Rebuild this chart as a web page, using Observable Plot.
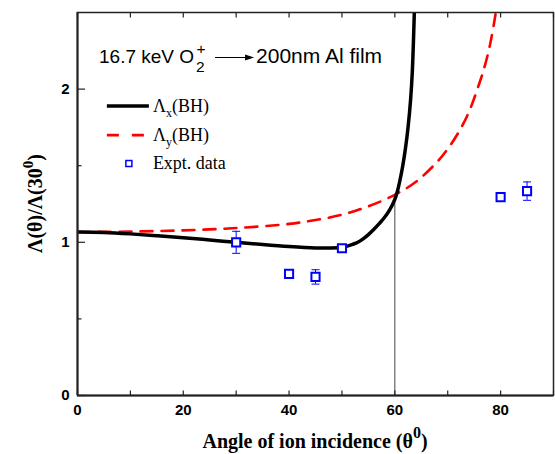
<!DOCTYPE html>
<html><head><meta charset="utf-8">
<script src="https://cdn.jsdelivr.net/npm/d3@7"></script>
<script src="https://cdn.jsdelivr.net/npm/@observablehq/plot@0.6"></script>
<style>body{margin:0;background:#fff} svg{display:block}</style>
</head><body><div id="chart"></div>
<script>
// Λx(BH) curve (black solid)
const thetaX = [0,5,10,15,20,25,30,35,40,45,48,50,51,52,53,54,55,56,57,58,59,60,60.5,61,61.5,62,62.5,63,63.3,63.6,63.8];
const lambdaX = [1.067,1.064,1.055,1.043,1.03,1.015,1.0,0.985,0.972,0.963,0.963,0.968,0.975,0.986,1.0,1.022,1.05,1.083,1.12,1.16,1.21,1.28,1.335,1.41,1.50,1.61,1.75,1.94,2.11,2.4,2.65];
// Λy(BH) curve (red dashed)
const thetaY = [0,10,20,30,40,45,50,55,60,64,68,70,72,74,76,77,78,79,79.5];
const lambdaY = [1.067,1.07,1.078,1.093,1.12,1.145,1.18,1.235,1.31,1.395,1.525,1.61,1.715,1.85,2.04,2.15,2.29,2.48,2.6];
// Experimental data
const exptTheta = [30,40,45,50,80,85];
const exptRatio = [1.0,0.794,0.774,0.961,1.295,1.334];
const exptErr = [0.072,0,0.047,0,0.012,0.06];
// crossing marker line
const crossTheta = [60];
const crossRatio = [1.315];
// ticks
const xMajor = [0,20,40,60,80];
const xMinor = [0,10,20,30,40,50,60,70,80,90];
const yMajor = [0,1,2];
const yMinor = [0.5,1.5];
// annotation and legend anchors (data coords)
const annotation = {theta: 4.16, ratio: 2.167};
const legendAnchor = {theta: 5.65, ratios: [1.887, 1.696, 1.511]};
const legendLabels = [["Λ","x","(BH)"],["Λ","y","(BH)"],["Expt. data"]];

const bhX = thetaX.map((t,i)=>({t, v: lambdaX[i]}));
const bhY = thetaY.map((t,i)=>({t, v: lambdaY[i]}));
const expt = exptTheta.map((t,i)=>({t, v: exptRatio[i], e: exptErr[i]}));
const errs = expt.filter(d=>d.e>0);
const blue = "#0000ff";
const capSym = {draw(c, s){const r=Math.sqrt(s/Math.PI); c.moveTo(-r,0); c.lineTo(r,0);}};
const sans = "'Liberation Sans', Arial, sans-serif";
const serif = "'Liberation Serif', 'Times New Roman', serif";
const axColor = "#222";
const fmt = d => String(d);

const chart = Plot.plot({
  width: 555, height: 454,
  marginLeft: 77, marginRight: 2, marginTop: 12, marginBottom: 59,
  x: {domain: [0, 90]},
  y: {domain: [0, 2.5]},
  style: {background: "white", fontFamily: sans, color: "black"},
  marks: [
    Plot.ruleX(crossTheta, {x: d=>d, y1: 0, y2: (d,i)=>crossRatio[i], stroke: "#444", strokeWidth: 1}),
    Plot.line(bhY, {x: "t", y: "v", stroke: "#ff0000", strokeWidth: 2.6, strokeDasharray: "12,9", curve: "catmull-rom", clip: true}),
    Plot.line(bhX, {x: "t", y: "v", stroke: "black", strokeWidth: 3.5, curve: "catmull-rom", clip: true}),
    Plot.ruleX(errs, {x: "t", y1: d=>d.v-d.e, y2: d=>d.v+d.e, stroke: blue, strokeWidth: 1}),
    Plot.dot(errs, {x: "t", y: d=>d.v+d.e, symbol: capSym, r: 4, stroke: blue, strokeWidth: 1, fill: "none"}),
    Plot.dot(errs, {x: "t", y: d=>d.v-d.e, symbol: capSym, r: 4, stroke: blue, strokeWidth: 1, fill: "none"}),
    Plot.dot(expt, {x: "t", y: "v", symbol: "square", r: 4.6, stroke: blue, strokeWidth: 2, fill: "white"}),
    Plot.frame({stroke: axColor, strokeWidth: 1.5}),
    Plot.ruleX([0], {stroke: axColor, strokeWidth: 2}),
    Plot.ruleY([0], {stroke: axColor, strokeWidth: 2}),
    Plot.axisX(xMajor, {tickSize: 0, tickPadding: 9, fontSize: 15, fontWeight: "bold", tickFormat: fmt, label: null}),
    Plot.axisX(xMinor, {tickSize: -4.5, tickFormat: () => "", label: null, stroke: axColor, strokeWidth: 1.2}),
    Plot.axisX(xMinor, {anchor: "top", tickSize: -4.5, tickFormat: () => "", label: null, stroke: axColor, strokeWidth: 1.2}),
    Plot.axisY(yMajor, {tickSize: 0, tickPadding: 8, fontSize: 15, fontWeight: "bold", tickFormat: fmt, label: null}),
    Plot.axisY(yMajor, {tickSize: -8, tickFormat: () => "", label: null, stroke: axColor, strokeWidth: 1.2}),
    Plot.axisY(yMinor, {tickSize: -4.5, tickFormat: () => "", label: null, stroke: axColor, strokeWidth: 1.2})
  ]
});
document.getElementById("chart").appendChild(chart);

const svg = d3.select(chart);
const sx = chart.scale("x"), sy = chart.scale("y");

// Annotation
const ax = sx.apply(annotation.theta), ay = sy.apply(annotation.ratio);
const g = svg.append("g").attr("font-family", sans).attr("fill", "black").attr("text-anchor", "start");
const t1 = g.append("text").attr("x", ax).attr("y", ay).attr("font-size", 19).text("16.7 keV O");
const w = t1.node().getComputedTextLength();
g.append("text").attr("x", ax + w + 2).attr("y", ay + 9).attr("font-size", 15.5).text("2");
g.append("text").attr("x", ax + w + 2.5).attr("y", ay - 9).attr("font-size", 15.5).text("+");
g.append("line").attr("x1", ax + w + 21).attr("x2", ax + w + 53).attr("y1", ay - 5.5).attr("y2", ay - 5.5)
  .attr("stroke", "black").attr("stroke-width", 1);
g.append("path").attr("d", `M${ax + w + 60},${ay - 5.5} L${ax + w + 51},${ay - 8.5} L${ax + w + 51},${ay - 2.5} Z`).attr("fill", "black");
g.append("text").attr("x", ax + w + 62).attr("y", ay).attr("font-size", 21).text("200nm Al film");

// Legend
const lx = sx.apply(legendAnchor.theta);
const ly = legendAnchor.ratios.map(r => sy.apply(r));
const lg = svg.append("g").attr("font-family", serif).attr("font-size", 18).attr("fill", "black").attr("text-anchor", "start");
lg.append("line").attr("x1", lx).attr("x2", lx + 42).attr("y1", ly[0]).attr("y2", ly[0]).attr("stroke", "black").attr("stroke-width", 3.5);
lg.append("line").attr("x1", lx).attr("x2", lx + 38).attr("y1", ly[1]).attr("y2", ly[1]).attr("stroke", "#ff0000").attr("stroke-width", 2.6).attr("stroke-dasharray", "12,13");
lg.append("rect").attr("x", lx + 19).attr("y", ly[2] - 3).attr("width", 6).attr("height", 6).attr("fill", "white").attr("stroke", blue).attr("stroke-width", 1.5);
[0,1].forEach(i => {
  const t = lg.append("text").attr("x", lx + 46).attr("y", ly[i] + 6);
  t.append("tspan").text(legendLabels[i][0]);
  t.append("tspan").attr("font-size", 12).attr("dy", 5).text(legendLabels[i][1]);
  t.append("tspan").attr("dy", -5).text(legendLabels[i][2]);
});
lg.append("text").attr("x", lx + 46).attr("y", ly[2] + 5).text(legendLabels[2][0]);

// Axis labels
const plotMidY = (sy.apply(0) + sy.apply(2.5)) / 2;
const plotMidX = (sx.apply(0) + sx.apply(90)) / 2;
const yl = svg.append("text").attr("transform", `translate(42,${plotMidY}) rotate(-90)`)
  .attr("text-anchor", "middle").attr("font-family", serif).attr("font-weight", "bold").attr("font-size", 20).attr("fill", "black");
yl.append("tspan").text("Λ(θ)/Λ(30");
yl.append("tspan").attr("font-size", 15).attr("dy", -9).text("0");
yl.append("tspan").attr("dy", 9).text(")");
const xl = svg.append("text").attr("x", plotMidX).attr("y", 448)
  .attr("text-anchor", "middle").attr("font-family", serif).attr("font-weight", "bold").attr("font-size", 20).attr("fill", "black");
xl.append("tspan").text("Angle of ion incidence (θ");
xl.append("tspan").attr("font-size", 16).attr("dy", -10).text("0");
xl.append("tspan").attr("dy", 10).text(")");
</script>
</body></html>
